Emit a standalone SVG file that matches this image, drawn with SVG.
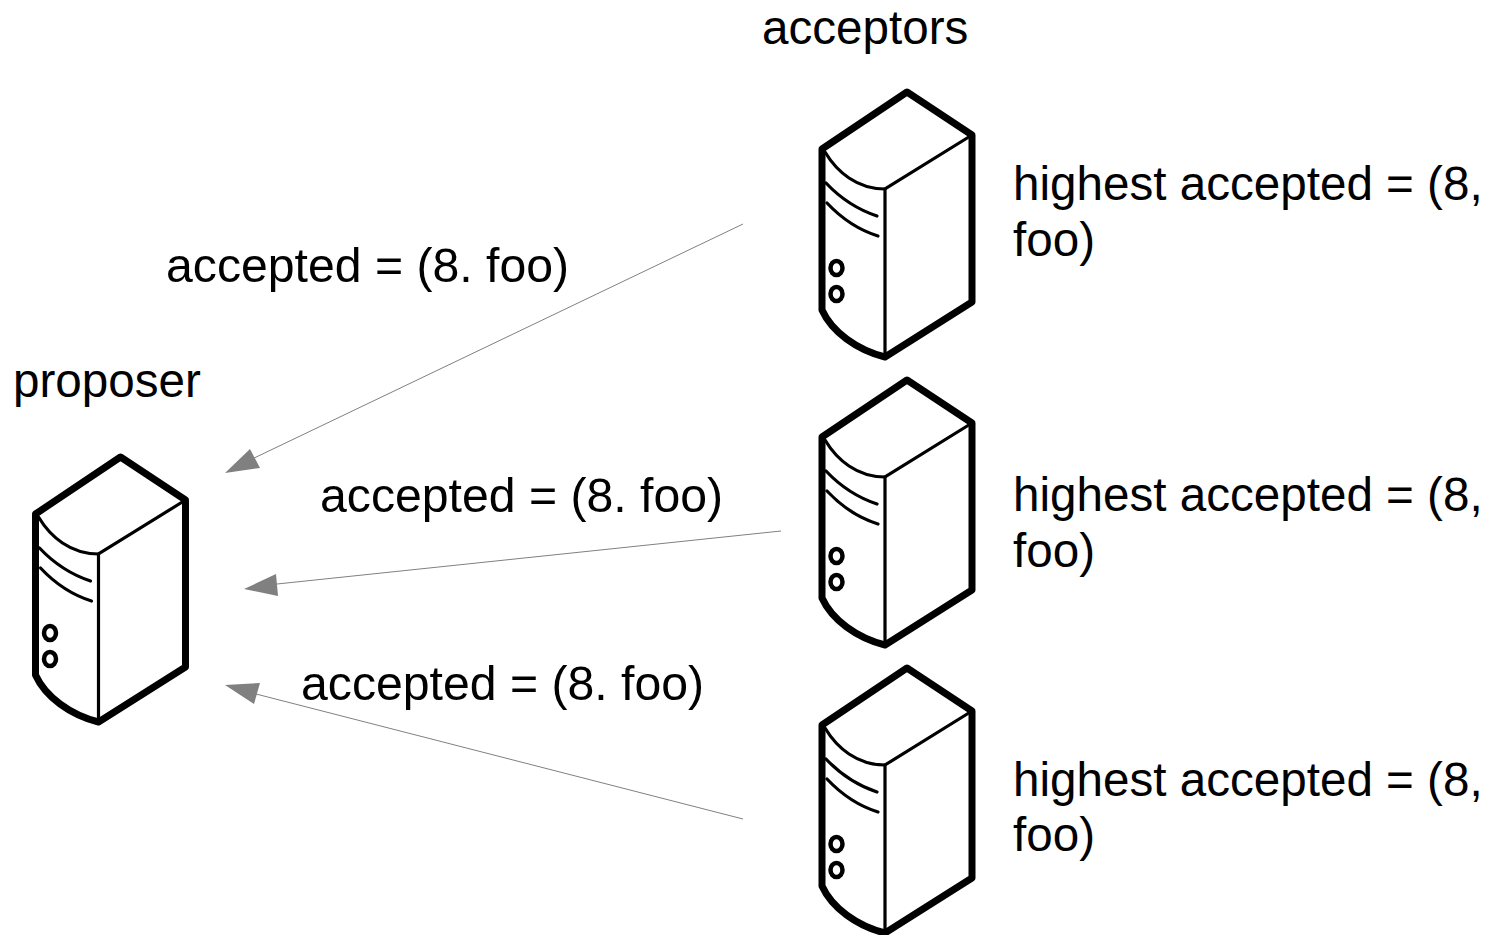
<svg xmlns="http://www.w3.org/2000/svg" width="1507" height="935" viewBox="0 0 1507 935">
<style>
text{font-family:"Liberation Sans",Arial,sans-serif;font-size:47.6px;fill:#000}
text.a{font-size:48.2px}
.o{fill:#fff;stroke:#000;stroke-width:7;stroke-linejoin:round}
.t{fill:none;stroke:#000;stroke-width:3.2;stroke-linecap:round}
.m{fill:none;stroke:#000;stroke-width:3.2;stroke-linecap:round}
.c{fill:none;stroke:#000;stroke-width:4.5}
.l{stroke:#808080;stroke-width:1;fill:none}
.h{fill:#808080}
</style>
<defs>
<g id="srv">
<path class="o" d="M0 0L65 43V210L-22 265C-50 258-75 240-85 218V57Z"/>
<path class="t" d="M65 43L-22 97V265"/>
<path class="t" d="M-82 60C-70 80-50 97-22 97"/>
<path class="m" d="M-81 91C-65 108-45 119-30 124M-80 111C-64 128-45 139-29 144"/>
<ellipse class="c" cx="-70.5" cy="176" rx="6" ry="7"/>
<ellipse class="c" cx="-70.5" cy="202" rx="6" ry="7"/>
</g>
</defs>
<g id="connectors">
<path class="l" d="M743 224L250 460"/><path class="h" d="M225 473L250 449L260 468Z"/>
<path class="l" d="M781 531L277 584"/><path class="h" d="M244 589L276 574L278 596Z"/>
<path class="l" d="M743 819L256 694"/><path class="h" d="M225 685L260 683L254 704Z"/>
</g>
<g id="acceptor1"><use href="#srv" x="907" y="92"/><text x="1013" y="200">highest accepted = (8,</text><text x="1013" y="256">foo)</text></g>
<g id="acceptor2"><use href="#srv" x="907" y="380"/><text x="1013" y="511">highest accepted = (8,</text><text x="1013" y="567">foo)</text></g>
<g id="acceptor3"><use href="#srv" x="907" y="668"/><text x="1013" y="796">highest accepted = (8,</text><text x="1013" y="851">foo)</text></g>
<g id="proposer"><use href="#srv" x="120.5" y="457"/><text x="13" y="397">proposer</text></g>
<g id="labels">
<text x="762" y="44">acceptors</text>
<text class="a" x="166" y="282">accepted = (8. foo)</text>
<text class="a" x="320" y="512">accepted = (8. foo)</text>
<text class="a" x="301" y="700">accepted = (8. foo)</text>
</g>
</svg>
